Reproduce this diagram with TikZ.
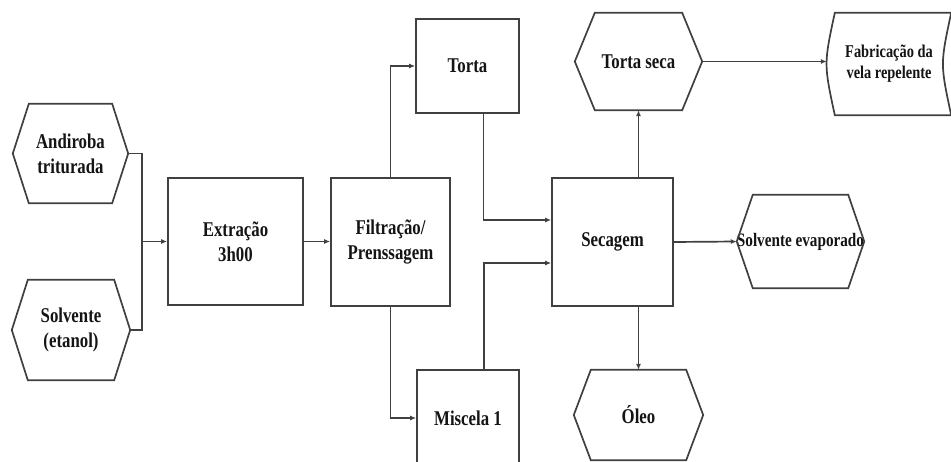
\documentclass[tikz,border=0pt]{standalone}
\usepackage{fontspec}
\setmainfont{Liberation Serif}[FakeStretch=0.8]
\usetikzlibrary{arrows.meta,calc}
\newcommand\hexdraw[2]{\draw[line, line join=miter] (#1.west) -- ([xshift=#2]#1.north west) -- ([xshift=-#2]#1.north east) -- (#1.east) -- ([xshift=-#2]#1.south east) -- ([xshift=#2]#1.south west) -- cycle;}
\begin{document}
\begin{tikzpicture}[x=1pt,y=-1pt,
  line/.style={draw=black!75, line width=1.7pt},
  arr/.style={line, -{Latex[length=6pt,width=5pt]}},
  lbl/.style={inner sep=0pt, align=center, text=black!92, font=\fontsize{21}{25}\selectfont\bfseries},
  small/.style={font=\fontsize{18}{21}\selectfont\bfseries},
  box/.style={lbl, line, rectangle},
  hexnode/.style={lbl, rectangle}]
\useasboundingbox (0,0) rectangle (951,462);
\fill[white] (0,0) rectangle (951,462);

% inputs
\node[hexnode, minimum width=115pt, minimum height=99pt] (and) at (70.5,153.5) {Andiroba\\triturada};
\hexdraw{and}{16pt}
\node[hexnode, minimum width=118pt, minimum height=100pt] (solv) at (71,330) {Solvente\\(etanol)};
\hexdraw{solv}{16pt}

% process boxes
\node[box, minimum width=135pt, minimum height=127pt] (ext) at (235.5,241.5) {Extração\\3h00};
\node[box, minimum width=119pt, minimum height=128pt] (filt) at (390.5,242) {Filtração/\\Prenssagem};
\node[box, minimum width=103pt, minimum height=94pt] (torta) at (467.5,66) {Torta};
\node[box, minimum width=102pt, minimum height=96pt] (misc) at (468,418) {Miscela 1};
\node[box, minimum width=121pt, minimum height=128pt] (sec) at (612.5,242) {Secagem};

% outputs
\node[hexnode, minimum width=127pt, minimum height=97pt] (tseca) at (638.5,61.5) {Torta seca};
\hexdraw{tseca}{20pt}
\node[hexnode, minimum width=129pt, minimum height=90pt] (oleo) at (638.5,415) {Óleo};
\hexdraw{oleo}{17pt}
\node[hexnode, font=\fontsize{19}{22}\selectfont\bfseries, minimum width=127pt, minimum height=93pt] (sevap) at (800.5,241.5) {Solvente evaporado};
\hexdraw{sevap}{16pt}
\node[hexnode, small, minimum width=124pt, minimum height=102pt] (fab) at (889,64) {Fabricação da\\vela repelente};
\draw[line] ([xshift=8pt]fab.north west) -- (fab.north east)
  .. controls ([xshift=-11pt]fab.east) .. (fab.south east)
  -- ([xshift=8pt]fab.south west)
  .. controls ([xshift=-3pt]fab.west) .. cycle;

% connectors
\coordinate (j) at ($(ext.west)+(-25pt,0)$);
\draw[line] (and.east) -| (j);
\draw[line] (solv.east) -| (j);
\draw[arr] (j) -- (ext.west);
\draw[arr] (ext.east) -- (ext.east -| filt.west);
\draw[arr] (filt.north) |- (torta.west);
\draw[arr] (filt.south) |- (misc.west);
\draw[arr] ([xshift=16pt]torta.south) |- ([yshift=22pt]sec.west);
\draw[arr] ([xshift=16pt]misc.north) |- ([yshift=-21pt]sec.west);
\draw[arr] (sec.north -| tseca.south) -- (tseca.south);
\draw[arr] (sec.south -| oleo.north) -- (oleo.north);
\draw[arr] (sec.east) -- (sevap.west);
\draw[arr] (tseca.east) -- (tseca.east -| fab.west);
\end{tikzpicture}
\end{document}
